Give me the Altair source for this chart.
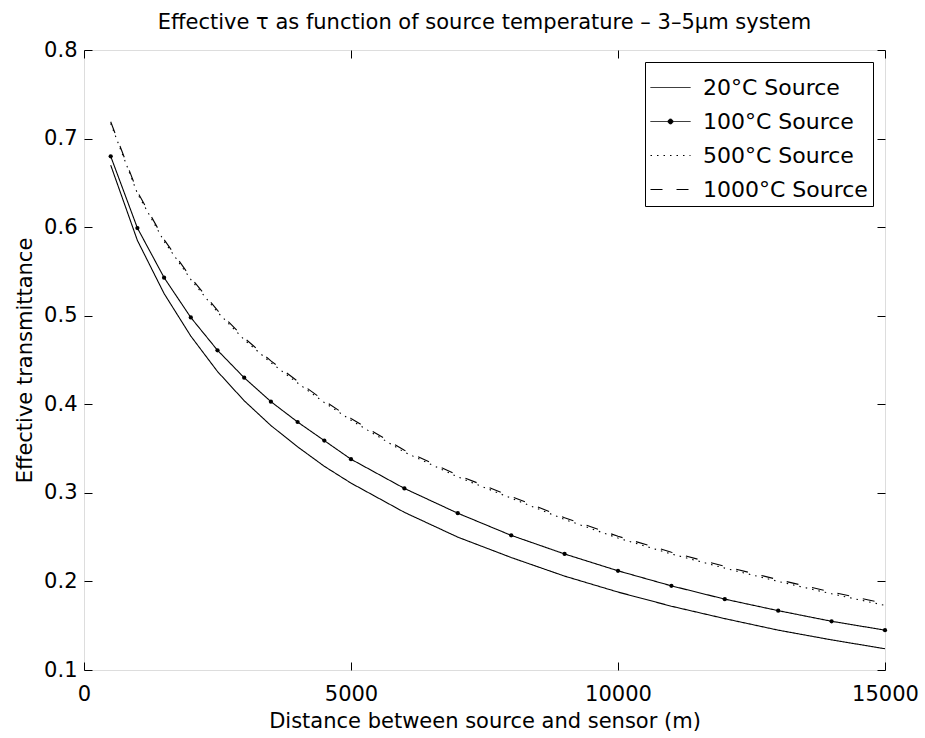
import altair as alt
import pandas as pd

# ---------------- data ----------------
distance = [500, 1000, 1500, 2000, 2500, 3000, 3500, 4000, 4500, 5000,
            6000, 7000, 8000, 9000, 10000, 11000, 12000, 13000, 14000, 15000]
t20 = [0.670, 0.585, 0.525, 0.477, 0.437, 0.404, 0.376, 0.352, 0.330, 0.311,
       0.278, 0.250, 0.227, 0.206, 0.188, 0.172, 0.158, 0.145, 0.134, 0.124]
t100 = [0.680, 0.599, 0.543, 0.498, 0.461, 0.430, 0.403, 0.380, 0.359, 0.338,
        0.305, 0.277, 0.252, 0.231, 0.212, 0.195, 0.180, 0.167, 0.155, 0.145]
t500 = [0.717, 0.638, 0.584, 0.541, 0.504, 0.473, 0.447, 0.424, 0.402, 0.382,
        0.346, 0.318, 0.294, 0.270, 0.249, 0.231, 0.215, 0.200, 0.186, 0.173]
t1000 = [0.719, 0.640, 0.586, 0.543, 0.506, 0.475, 0.449, 0.426, 0.404, 0.384,
         0.348, 0.320, 0.296, 0.272, 0.251, 0.233, 0.217, 0.202, 0.188, 0.175]
series_names = ["20°C Source", "100°C Source", "500°C Source", "1000°C Source"]
x_ticks = [0, 5000, 10000, 15000]
y_ticks = [0.1, 0.2, 0.3, 0.4, 0.5, 0.6, 0.7, 0.8]

rows = []
for name, vals in zip(series_names, [t20, t100, t500, t1000]):
    for d, v in zip(distance, vals):
        rows.append({"series": name, "distance": d, "tau": v})
df = pd.DataFrame(rows)

FONT = "DejaVu Sans"
FS = 21

# line styles per series (solid, solid+dots, dotted, dashed)
dashes = [[1, 0], [1, 0], [1.5, 5], [12, 14]]

xscale = alt.Scale(domain=[0, 15000], nice=False, zero=False)
yscale = alt.Scale(domain=[0.1, 0.8], nice=False, zero=False)

common_axis = dict(tickSize=8, offset=-8, domain=False, grid=False,
                   tickColor="black", tickWidth=1, labelColor="black",
                   labelFont=FONT, labelFontSize=FS, labelFlush=False,
                   labelOverlap=False, labelBound=False,
                   titleFont=FONT, titleFontSize=FS, titleFontWeight="normal",
                   titleColor="black")

x_enc = alt.X("distance:Q", scale=xscale,
              axis=alt.Axis(values=x_ticks, format="d", labelPadding=13,
                            title="Distance between source and sensor (m)",
                            titlePadding=6, **common_axis))
y_enc = alt.Y("tau:Q", scale=yscale,
              axis=alt.Axis(values=y_ticks, format=".1f", labelPadding=7,
                            title="Effective transmittance", titlePadding=8,
                            **common_axis))
x_plain = alt.X("distance:Q", scale=xscale)
y_plain = alt.Y("tau:Q", scale=yscale)

line_layers = []
for i, (name, dash) in enumerate(zip(series_names, dashes)):
    enc = dict(x=x_enc, y=y_enc) if i == 0 else dict(x=x_plain, y=y_plain)
    line_layers.append(
        alt.Chart(df).transform_filter(alt.datum.series == name)
        .mark_line(color="black", strokeWidth=1.1, strokeDash=dash)
        .encode(**enc)
    )

markers = alt.Chart(df).transform_filter(
    alt.datum.series == "100°C Source"
).mark_point(filled=True, size=18, shape="circle", color="black", opacity=1).encode(
    x=x_plain, y=y_plain,
)

line_path = "M-1,0L1,0"
dot_path = ("M-1,0L1,0M0.12,0A0.12,0.12,0,1,1,-0.12,0"
            "A0.12,0.12,0,1,1,0.12,0Z")
shape_scale = alt.Scale(domain=series_names,
                        range=[line_path, dot_path, line_path, line_path])
dash_scale = alt.Scale(domain=series_names, range=dashes)

legend = alt.Legend(title=None, orient="top-right", offset=12, padding=5,
                    strokeColor="black", fillColor="white", cornerRadius=0,
                    labelFont=FONT, labelFontSize=22, labelColor="black",
                    labelLimit=400,
                    symbolSize=1600, symbolStrokeWidth=1, symbolOpacity=1,
                    labelOffset=12, rowPadding=2)

legend_layer = alt.Chart(df).mark_point(
    opacity=0.001, filled=True, fill="black", stroke="black", strokeWidth=1
).encode(
    x=x_plain, y=y_plain,
    shape=alt.Shape("series:N", scale=shape_scale, legend=legend, sort=series_names),
    strokeDash=alt.StrokeDash("series:N", scale=dash_scale, legend=legend, sort=series_names),
)

side_axis = dict(tickSize=8, offset=-8, domain=False, grid=False,
                 tickColor="black", labels=False, title=None)
frame_layer = alt.Chart(df).mark_point(opacity=0).encode(
    x=alt.X("distance:Q", scale=xscale,
            axis=alt.Axis(orient="top", values=x_ticks, **side_axis)),
    y=alt.Y("tau:Q", scale=yscale,
            axis=alt.Axis(orient="right", values=y_ticks, **side_axis)),
)

chart = alt.layer(
    alt.layer(*line_layers, markers, legend_layer), frame_layer
).resolve_scale(x="independent", y="independent").properties(
    width=801, height=620,
    title=alt.TitleParams(
        "Effective τ as function of source temperature – 3–5μm system",
        font=FONT, fontSize=FS, fontWeight="normal", color="black",
        anchor="middle", frame="group", baseline="alphabetic", offset=-11),
    padding={"left": 84, "top": 50, "right": 40, "bottom": 68},
    autosize=alt.AutoSizeParams(type="none"),
).configure_view(stroke="black", strokeWidth=1).configure(background="white")

chart.save("out.html", embed_options={"renderer": "svg", "actions": False})
